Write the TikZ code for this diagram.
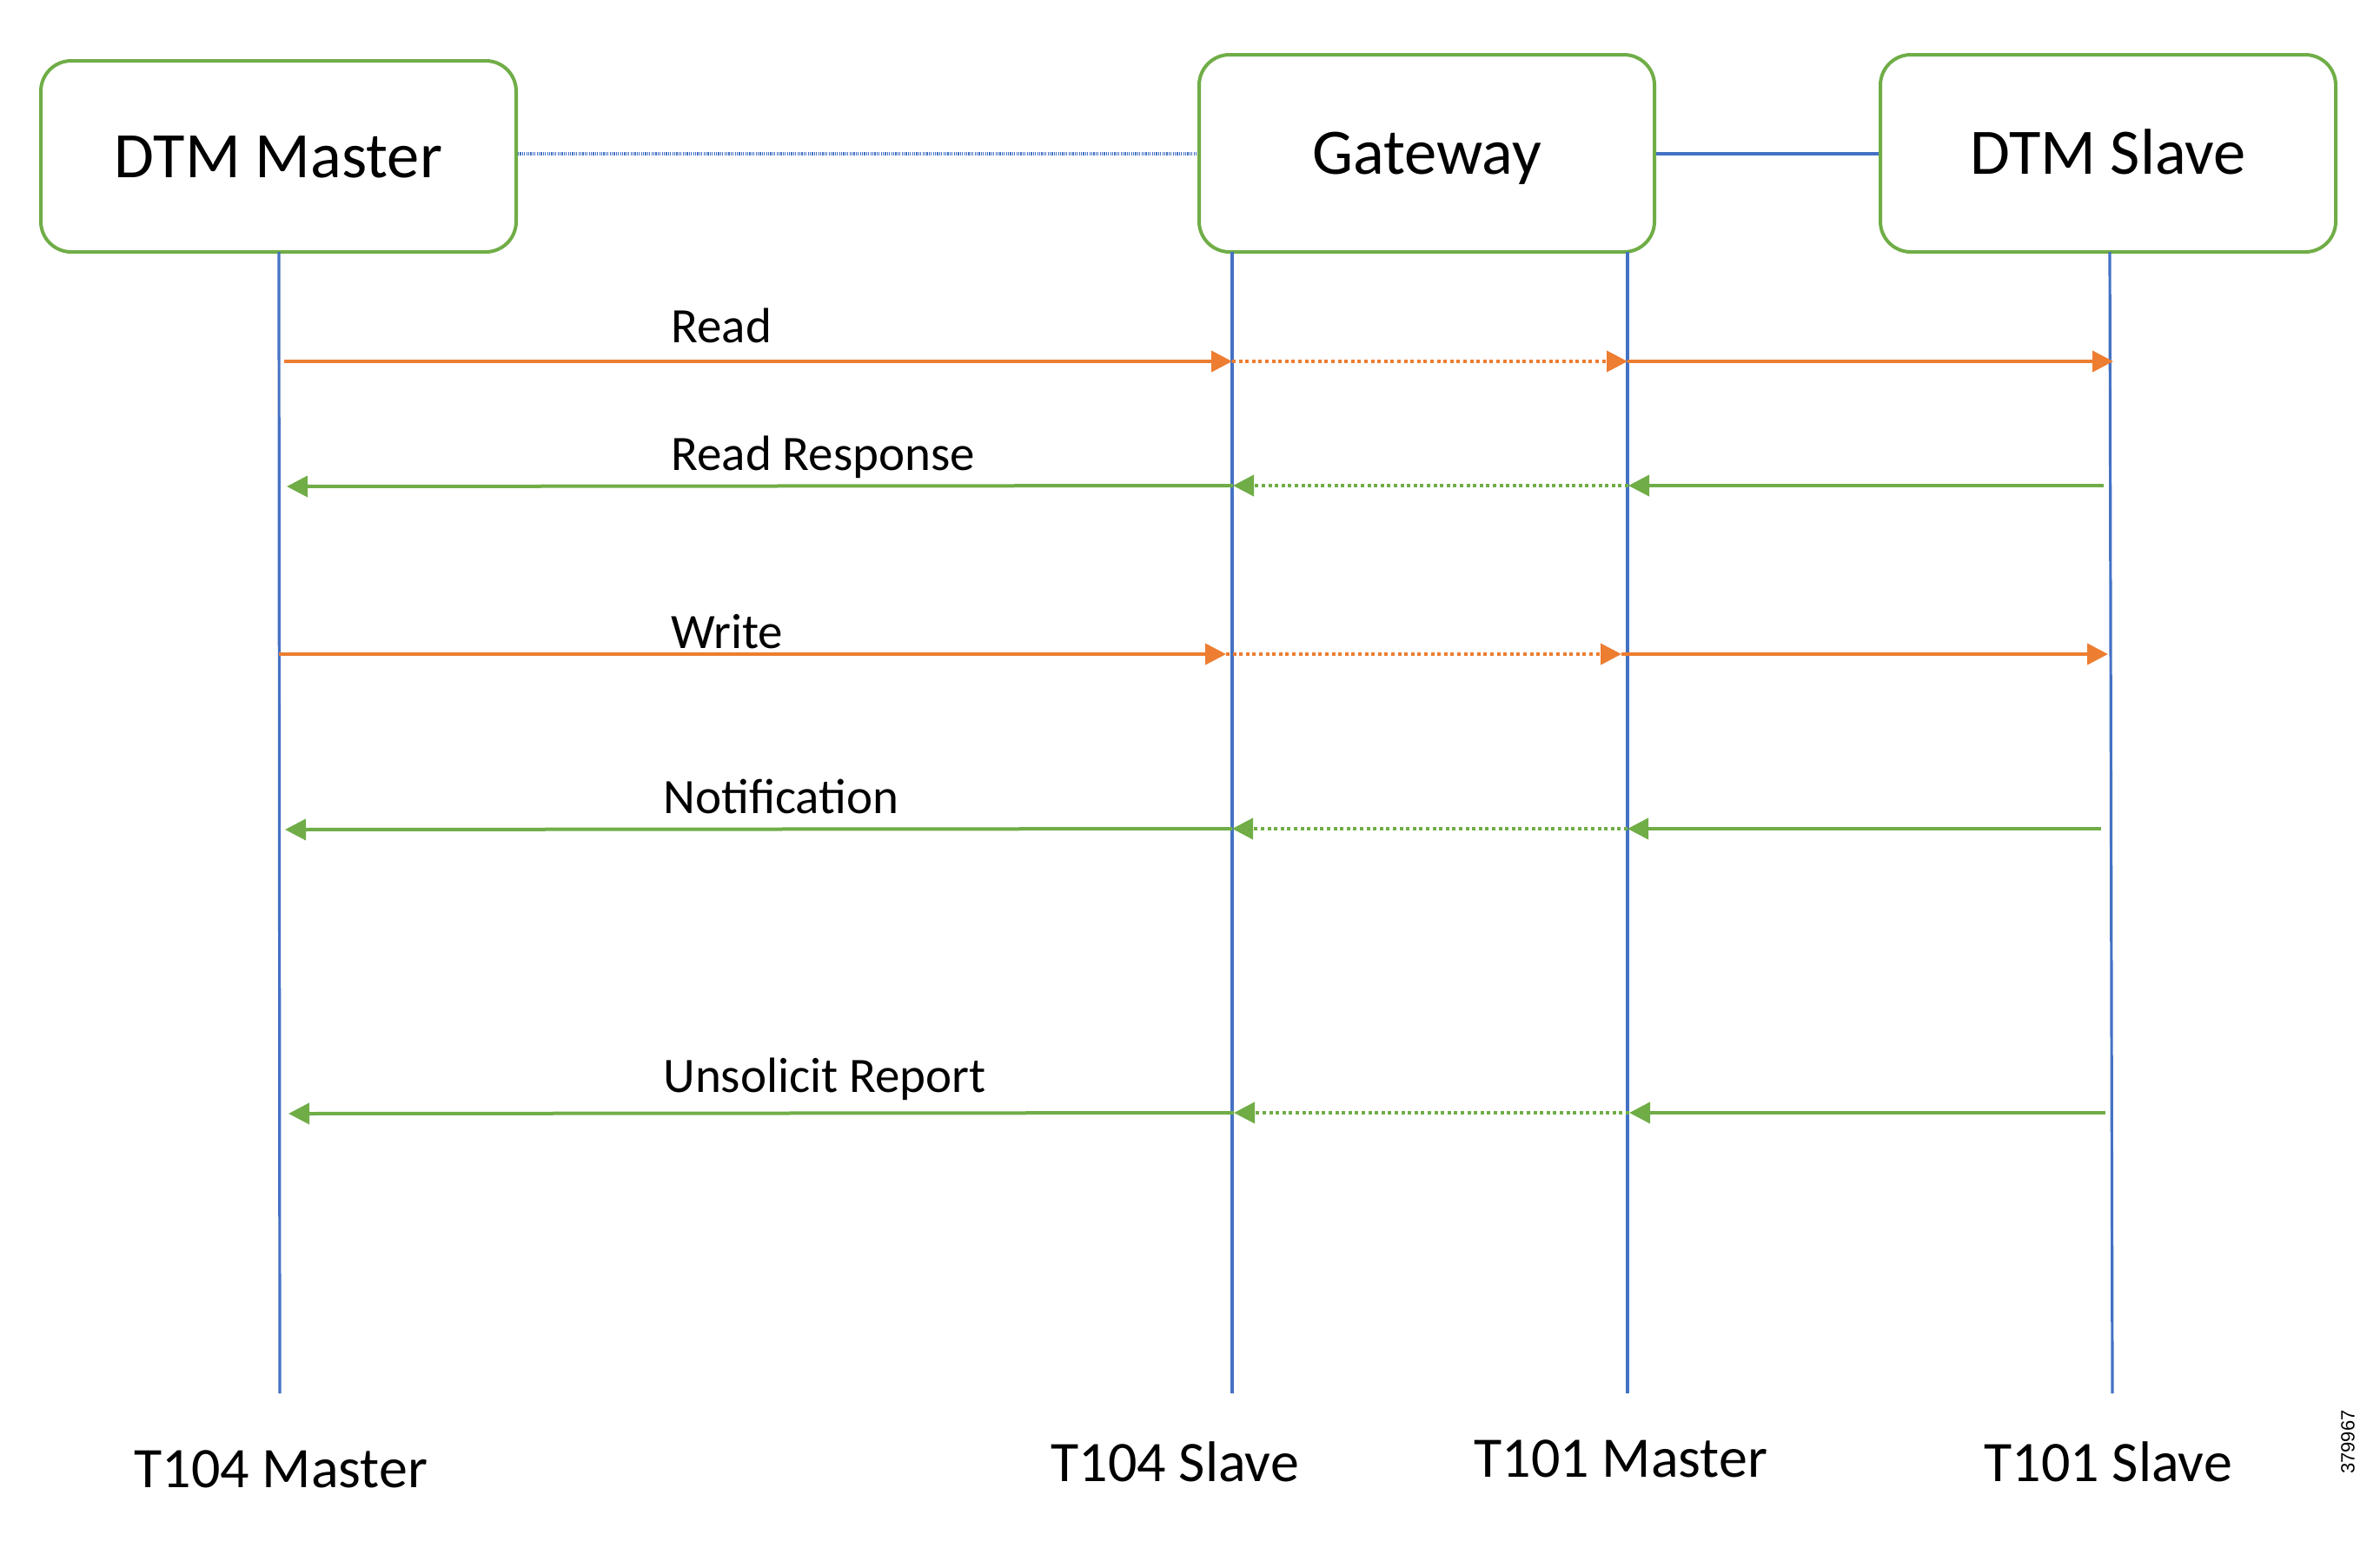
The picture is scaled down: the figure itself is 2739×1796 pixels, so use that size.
\documentclass[tikz,border=0pt]{standalone}
\usepackage{fontspec}
\setmainfont{Carlito}
\newfontfamily\idfont{Liberation Sans}
\usetikzlibrary{arrows.meta}
\definecolor{boxgreen}{HTML}{70AD47}
\definecolor{msggreen}{HTML}{70AD47}
\definecolor{msgorange}{HTML}{ED7D31}
\definecolor{lineblue}{HTML}{4472C4}
\tikzset{
  actor/.style={draw=boxgreen, line width=2pt, rounded corners=17.5pt, fill=white, inner sep=0pt, text height=24pt, text depth=0pt, font=\fontsize{37.3}{44}\selectfont},
  life/.style={draw=lineblue, line width=1.6pt},
  tipstyle/.style={-{Triangle[length=12pt,width=12pt]}},
  req/.style={draw=msgorange, line width=2pt, tipstyle},
  reqdot/.style={req, dash pattern=on 2pt off 1.8pt},
  resp/.style={draw=msggreen, line width=2pt, tipstyle},
  respdot/.style={resp, dash pattern=on 2pt off 1.8pt},
  msglabel/.style={anchor=base west, inner sep=0pt, font=\fontsize{28.5}{34}\selectfont},
  rolelabel/.style={anchor=base west, inner sep=0pt, font=\fontsize{33}{40}\selectfont},
  linkdot/.style={draw=lineblue, line width=2pt, dash pattern=on 0.6pt off 0.6pt},
  linksolid/.style={draw=lineblue, line width=2pt}
}
\begin{document}
\begin{tikzpicture}[x=0.5pt,y=-0.5pt]
\useasboundingbox (0,0) rectangle (2739,1796);

% actor boxes
\node[actor, minimum width=273.5pt, minimum height=110pt] (master) at (320.5,180) {DTM Master};
\node[actor, minimum width=262pt, minimum height=113.5pt] (gateway) at (1642,176.5) {Gateway};
\node[actor, minimum width=262pt, minimum height=113.5pt] (slave) at (2426,176.5) {DTM Slave};

% links between boxes
\draw[linkdot] (master.east |- gateway.west) -- (gateway.west);
\draw[linksolid] (gateway.east) -- (slave.west);

% lifelines
\coordinate (l1t) at (321,290);  \coordinate (l1b) at (322,1604);
\coordinate (l2t) at (1418,290); \coordinate (l2b) at (1418,1604);
\coordinate (l3t) at (1873,290); \coordinate (l3b) at (1873,1604);
\coordinate (l4t) at (2428,290); \coordinate (l4b) at (2431,1604);
\draw[life] (l1t) -- (l1b);
\draw[life] (l2t) -- (l2b);
\draw[life] (l3t) -- (l3b);
\draw[life] (l4t) -- (l4b);

% Read
\coordinate (r1a) at (327,416);  \coordinate (r1b) at (1418,416);
\coordinate (r1c) at (1873,416); \coordinate (r1d) at (2432,416);
\draw[req] (r1a) -- (r1b);
\draw[reqdot] (r1b) -- (r1c);
\draw[req] (r1c) -- (r1d);
\node[msglabel] (readlbl) at (772,394) {Read};

% Read Response
\coordinate (r2a) at (2421,559); \coordinate (r2b) at (1874,559);
\coordinate (r2c) at (1419,559); \coordinate (r2d) at (330,560);
\draw[resp] (r2a) -- (r2b);
\draw[respdot] (r2b) -- (r2c);
\draw[resp] (r2c) -- (r2d);
\node[msglabel] (resplbl) at (772,541) {Read Response};

% Write
\coordinate (r3a) at (321,753);  \coordinate (r3b) at (1411,753);
\coordinate (r3c) at (1866,753); \coordinate (r3d) at (2426,753);
\draw[req] (r3a) -- (r3b);
\draw[reqdot] (r3b) -- (r3c);
\draw[req] (r3c) -- (r3d);
\node[msglabel] (writelbl) at (772,746) {Write};

% Notification
\coordinate (r4a) at (2418,954); \coordinate (r4b) at (1873,954);
\coordinate (r4c) at (1418,954); \coordinate (r4d) at (328,955);
\draw[resp] (r4a) -- (r4b);
\draw[respdot] (r4b) -- (r4c);
\draw[resp] (r4c) -- (r4d);
\node[msglabel] (notlbl) at (763,936) {Notification};

% Unsolicit Report
\coordinate (r5a) at (2423,1281); \coordinate (r5b) at (1875,1281);
\coordinate (r5c) at (1420,1281); \coordinate (r5d) at (332,1282);
\draw[resp] (r5a) -- (r5b);
\draw[respdot] (r5b) -- (r5c);
\draw[resp] (r5c) -- (r5d);
\node[msglabel] (unslbl) at (763,1257) {Unsolicit Report};

% role labels
\node[rolelabel] (t104m) at (154,1712) {T104 Master};
\node[rolelabel] (t104s) at (1209,1705) {T104 Slave};
\node[rolelabel] (t101m) at (1696,1700) {T101 Master};
\node[rolelabel] (t101s) at (2283,1705) {T101 Slave};

% figure id
\node[rotate=90, inner sep=0pt, font=\idfont\fontsize{11}{13}\selectfont] (figid) at (2702,1660) {379967};
\end{tikzpicture}
\end{document}
